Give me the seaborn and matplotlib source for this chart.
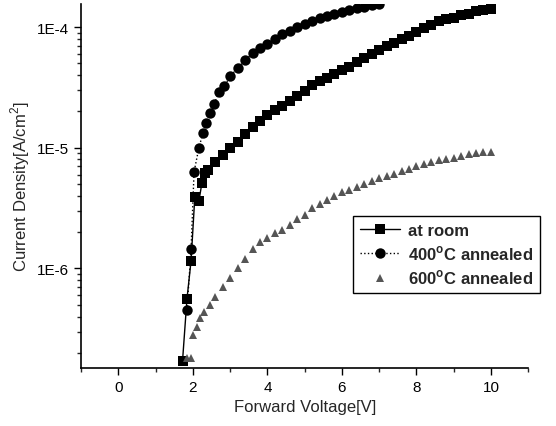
import matplotlib
matplotlib.use("Agg")
import matplotlib.pyplot as plt
import seaborn as sns
from matplotlib.ticker import FixedLocator, LogLocator, NullFormatter, MultipleLocator

# room temperature (squares)
room_x = [1.72, 1.84, 1.95, 2.05, 2.16, 2.24, 2.32,
          2.4, 2.6, 2.8, 3.0, 3.2, 3.4, 3.6, 3.8, 4.0, 4.2, 4.4, 4.6, 4.8,
          5.0, 5.2, 5.4, 5.6, 5.8, 6.0, 6.2, 6.4, 6.6, 6.8, 7.0, 7.2, 7.4,
          7.6, 7.8, 8.0, 8.2, 8.4, 8.6, 8.8, 9.0, 9.2, 9.4, 9.6, 9.8, 10.0]
room_y = [1.7e-7, 5.6e-7, 1.16e-6, 3.9e-6, 3.6e-6, 5.1e-6, 6.2e-6,
          6.6e-6, 7.6e-6, 8.7e-6, 1.0e-5, 1.12e-5, 1.29e-5, 1.48e-5, 1.66e-5,
          1.86e-5, 2.04e-5, 2.24e-5, 2.45e-5, 2.69e-5, 2.95e-5, 3.31e-5,
          3.55e-5, 3.8e-5, 4.07e-5, 4.37e-5, 4.68e-5, 5.13e-5, 5.5e-5, 6.03e-5,
          6.46e-5, 6.92e-5, 7.41e-5, 7.94e-5, 8.51e-5, 9.12e-5, 9.77e-5,
          1.05e-4, 1.12e-4, 1.17e-4, 1.2e-4, 1.26e-4, 1.29e-4, 1.35e-4,
          1.38e-4, 1.41e-4]

# 400C annealed (circles)
a400_x = [1.84, 1.95, 2.03, 2.16, 2.27, 2.35, 2.46, 2.57, 2.7, 2.84, 3.0,
          3.2, 3.4, 3.6, 3.8, 4.0, 4.2, 4.4, 4.6, 4.8, 5.0, 5.2, 5.4, 5.6,
          5.8, 6.0, 6.2, 6.4, 6.6, 6.8, 7.0]
a400_y = [4.5e-7, 1.44e-6, 6.3e-6, 1.0e-5, 1.33e-5, 1.6e-5, 1.95e-5, 2.3e-5,
          2.9e-5, 3.25e-5, 3.9e-5, 4.6e-5, 5.3e-5, 6.1e-5, 6.7e-5, 7.3e-5,
          7.9e-5, 8.7e-5, 9.3e-5, 1.0e-4, 1.07e-4, 1.13e-4, 1.19e-4, 1.24e-4,
          1.29e-4, 1.34e-4, 1.38e-4, 1.44e-4, 1.48e-4, 1.52e-4, 1.56e-4]

# 600C annealed (triangles)
a600_x = [1.85, 1.95, 2.0, 2.1, 2.2, 2.3, 2.45, 2.6, 2.8, 3.0, 3.2, 3.4,
          3.6, 3.8, 4.0, 4.2, 4.4, 4.6, 4.8, 5.0, 5.2, 5.4, 5.6, 5.8, 6.0,
          6.2, 6.4, 6.6, 6.8, 7.0, 7.2, 7.4, 7.6, 7.8, 8.0, 8.2, 8.4, 8.6,
          8.8, 9.0, 9.2, 9.4, 9.6, 9.8, 10.0]
a600_y = [1.8e-7, 1.8e-7, 2.8e-7, 3.3e-7, 3.9e-7, 4.4e-7, 5.0e-7, 5.8e-7,
          7.0e-7, 8.3e-7, 1.0e-6, 1.2e-6, 1.45e-6, 1.65e-6, 1.8e-6, 1.95e-6,
          2.1e-6, 2.3e-6, 2.55e-6, 2.8e-6, 3.2e-6, 3.45e-6, 3.7e-6, 4.0e-6,
          4.3e-6, 4.5e-6, 4.75e-6, 5.0e-6, 5.3e-6, 5.6e-6, 5.85e-6, 6.1e-6,
          6.4e-6, 6.7e-6, 7.0e-6, 7.3e-6, 7.6e-6, 7.9e-6, 8.15e-6, 8.3e-6,
          8.55e-6, 8.8e-6, 9.05e-6, 9.2e-6, 9.3e-6]

labels = ["at room", "400$^{\\mathregular{o}}$C annealed", "600$^{\\mathregular{o}}$C annealed"]
ytick_vals = [1e-6, 1e-5, 1e-4]
ytick_labels = ["1E-6", "1E-5", "1E-4"]

sns.set_style("ticks")
plt.rcParams['font.family'] = ['Liberation Sans', 'DejaVu Sans']

fig = plt.figure(figsize=(5.56, 4.27), dpi=100)
ax = fig.add_axes([0.146, 0.136, 0.804, 0.852])

sns.lineplot(x=room_x, y=room_y, ax=ax, color="black", marker="s", markersize=7,
             linewidth=1.0, linestyle="-", markeredgewidth=0, label=labels[0])
sns.lineplot(x=a400_x, y=a400_y, ax=ax, color="black", marker="o", markersize=7.5,
             linewidth=1.0, linestyle=":", markeredgewidth=0, label=labels[1])
sns.lineplot(x=a600_x, y=a600_y, ax=ax, color="#555555", marker="^", markersize=6,
             linewidth=0, markeredgewidth=0, label=labels[2])

ax.set_yscale("log")
ax.set_xlim(-1, 11)
ax.set_ylim(1.5e-7, 1.55e-4)
ax.yaxis.set_major_locator(FixedLocator(ytick_vals))
ax.set_yticklabels(ytick_labels)
ax.yaxis.set_minor_locator(LogLocator(base=10, subs=range(2, 10)))
ax.yaxis.set_minor_formatter(NullFormatter())
ax.xaxis.set_major_locator(MultipleLocator(2))
ax.xaxis.set_minor_locator(MultipleLocator(1))

sns.despine(ax=ax)
for s in ["left", "bottom"]:
    ax.spines[s].set_linewidth(1.2)
    ax.spines[s].set_color("black")
ax.tick_params(which="major", direction="out", length=5, width=1, labelsize=11, colors="black")
ax.tick_params(which="minor", direction="out", length=3, width=1)

ax.set_xlabel("Forward Voltage[V]", fontsize=12)
ax.set_ylabel("Current Density[A/cm$^{\\mathregular{2}}$]", fontsize=12)

leg = ax.legend(loc="upper left", bbox_to_anchor=(0.608, 0.418), frameon=True,
                fancybox=False, edgecolor="black", framealpha=1,
                prop={"weight": "bold", "size": 12}, handlelength=2.4,
                borderpad=0.4, labelspacing=0.35, borderaxespad=0,
                handletextpad=0.5)
leg.get_frame().set_linewidth(1.0)

plt.savefig("out.png", dpi=100)
